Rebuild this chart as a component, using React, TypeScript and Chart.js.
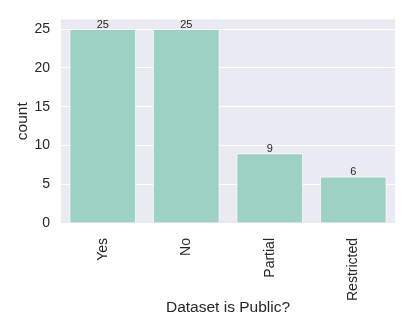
import React, { useEffect, useRef } from 'react';
import { Chart, registerables } from 'chart.js';

Chart.register(...registerables);

const categories = ['Yes', 'No', 'Partial', 'Restricted'];
const counts = [25, 25, 9, 6];
const yTicks = [0, 5, 10, 15, 20, 25];

const FONT = '"Liberation Sans", Arial, sans-serif';
const TEXT = '#262626';

export default function App() {
  const ref = useRef<HTMLCanvasElement>(null);

  useEffect(() => {
    const bg = {
      id: 'bg',
      beforeDraw(chart: any) {
        const { ctx, chartArea } = chart;
        ctx.save();
        ctx.fillStyle = '#EAEAF2';
        ctx.fillRect(chartArea.left, chartArea.top, chartArea.right - chartArea.left, chartArea.bottom - chartArea.top);
        ctx.restore();
      },
    };
    const vals = {
      id: 'vals',
      afterDatasetsDraw(chart: any) {
        const { ctx } = chart;
        const meta = chart.getDatasetMeta(0);
        ctx.save();
        ctx.font = `11px ${FONT}`;
        ctx.fillStyle = TEXT;
        ctx.textAlign = 'center';
        ctx.textBaseline = 'bottom';
        meta.data.forEach((bar: any, i: number) => {
          ctx.fillText(String(counts[i]), bar.x, bar.y + 1);
        });
        ctx.restore();
      },
    };

    const chart = new Chart(ref.current as HTMLCanvasElement, {
      type: 'bar',
      data: {
        labels: categories,
        datasets: [
          {
            data: counts,
            backgroundColor: '#9DD1C4',
            borderColor: '#FFFFFF',
            borderWidth: 1,
            categoryPercentage: 0.8,
            barPercentage: 1,
          },
        ],
      },
      options: {
        responsive: false,
        animation: false,
        layout: { padding: { top: 7, right: 9, left: 0, bottom: 0 } },
        plugins: { legend: { display: false }, tooltip: { enabled: false } },
        scales: {
          x: {
            grid: { display: false },
            border: { display: false },
            ticks: {
              minRotation: 90,
              maxRotation: 90,
              padding: 7,
              color: TEXT,
              font: { family: FONT, size: 14 },
            },
            title: {
              display: true,
              text: 'Dataset is Public?',
              color: TEXT,
              font: { family: FONT, size: 15.5 },
              padding: { top: 0, bottom: 10 },
            },
            afterFit(s: any) {
              s.height = 104;
            },
          },
          y: {
            min: 0,
            max: 26.25,
            afterBuildTicks(s: any) {
              s.ticks = yTicks.map((v) => ({ value: v }));
            },
            grid: { color: '#FFFFFF', lineWidth: 1, drawTicks: false },
            border: { display: false },
            ticks: {
              padding: 11,
              color: TEXT,
              font: { family: FONT, size: 14 },
            },
            title: {
              display: true,
              text: 'count',
              color: TEXT,
              font: { family: FONT, size: 15.5 },
              padding: { top: 13, bottom: 0 },
            },
            afterFit(s: any) {
              s.width = 61;
            },
          },
        },
      },
      plugins: [bg, vals],
    });
    return () => chart.destroy();
  }, []);

  return (
    <div style={{ position: 'absolute', left: 0, top: 0, width: 404, height: 327 }}>
      <canvas ref={ref} width={404} height={327} />
    </div>
  );
}
